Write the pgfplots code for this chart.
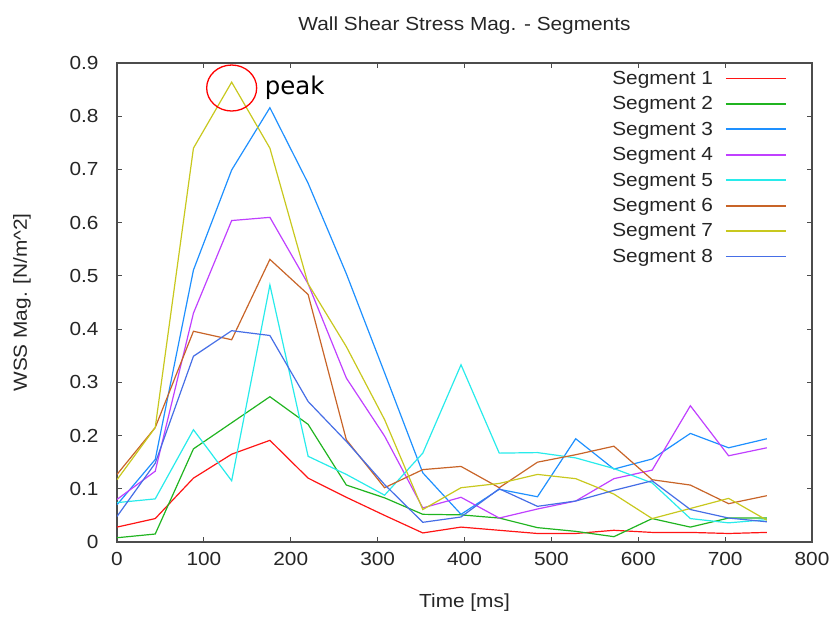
\documentclass[border=0pt]{standalone}
\usepackage{fontspec}
\setmainfont{Liberation Sans}[FakeStretch=1.1]
\newfontfamily\dejavu{DejaVu Sans}
\usepackage{pgfplots}
\pgfplotsset{compat=1.18}
\definecolor{sone}{RGB}{255,20,20}
\definecolor{stwo}{RGB}{32,180,32}
\definecolor{sthree}{RGB}{30,144,255}
\definecolor{sfour}{RGB}{192,64,255}
\definecolor{sfive}{RGB}{40,235,235}
\definecolor{ssix}{RGB}{200,100,40}
\definecolor{sseven}{RGB}{200,200,30}
\definecolor{seight}{RGB}{70,110,230}
\begin{document}
\begin{tikzpicture}
\path[use as bounding box] (-117bp,-77bp) rectangle (715bp,542bp);
\begin{axis}[
  scale only axis,
  width=695bp, height=479bp,
  xmin=0, xmax=800, ymin=0, ymax=0.9,
  xtick={0,100,...,800},
  ytick={0,0.1,...,0.9},
  tick align=inside,
  major tick length=5bp,
  /pgf/number format/assume math mode=true,
  yticklabel style={/pgf/number format/fixed,/pgf/number format/precision=1},
  tick label style={font=\fontsize{19}{22}\selectfont, color=black!85},
  xticklabel style={yshift=-7bp},
  yticklabel style={xshift=-15bp},
  axis line style={black!70, line width=1.2bp},
  every tick/.style={black!70, line width=1bp},
  title={Wall Shear Stress Mag. - Segments},
  title style={font=\fontsize{19}{22}\selectfont, color=black!85, at={(axis description cs:0.5,1.065)}, anchor=center},
  xlabel={Time [ms]},
  ylabel={WSS Mag. [N/m\^{}2]},
  xlabel style={font=\fontsize{19}{22}\selectfont, color=black!85, at={(axis description cs:0.5,-0.1273)}, anchor=center},
  ylabel style={font=\fontsize{19}{22}\selectfont, color=black!85, at={(axis description cs:-0.1367,0.5)}, anchor=center},
  legend style={draw=none, fill=none, at={(1,1)}, anchor=north east, xshift=-22bp, yshift=-5bp,
    font=\fontsize{19}{22}\selectfont, text=black!85, row sep=8.7bp,
    nodes={inner xsep=12bp, inner ysep=1bp}},
  legend cell align=right,
  legend plot pos=right,
  legend image code/.code={\draw[#1, line width=1.8bp] (0bp,0bp) -- (60bp,0bp);},
  every axis plot/.append style={line width=1.2bp},
]
\addplot[sone] coordinates {(0,0.028)(44,0.044)(88,0.120)(132,0.165)(176,0.191)(220,0.120)(264,0.084)(308,0.050)(352,0.017)(396,0.028)(440,0.022)(484,0.016)(528,0.016)(572,0.022)(616,0.018)(660,0.018)(704,0.016)(748,0.018)};
\addlegendentry{Segment 1}
\addplot[stwo] coordinates {(0,0.008)(44,0.015)(88,0.175)(132,0.224)(176,0.273)(220,0.221)(264,0.107)(308,0.083)(352,0.052)(396,0.051)(440,0.045)(484,0.027)(528,0.020)(572,0.010)(616,0.044)(660,0.028)(704,0.045)(748,0.045)};
\addlegendentry{Segment 2}
\addplot[sthree] coordinates {(0,0.070)(44,0.155)(88,0.511)(132,0.699)(176,0.816)(220,0.674)(264,0.504)(308,0.318)(352,0.130)(396,0.052)(440,0.099)(484,0.085)(528,0.194)(572,0.137)(616,0.156)(660,0.204)(704,0.177)(748,0.194)};
\addlegendentry{Segment 3}
\addplot[sfour] coordinates {(0,0.080)(44,0.133)(88,0.430)(132,0.604)(176,0.610)(220,0.485)(264,0.308)(308,0.199)(352,0.064)(396,0.084)(440,0.045)(484,0.062)(528,0.077)(572,0.119)(616,0.135)(660,0.256)(704,0.162)(748,0.177)};
\addlegendentry{Segment 4}
\addplot[sfive] coordinates {(0,0.074)(44,0.081)(88,0.211)(132,0.115)(176,0.483)(220,0.161)(264,0.127)(308,0.088)(352,0.167)(396,0.333)(440,0.167)(484,0.168)(528,0.158)(572,0.138)(616,0.111)(660,0.044)(704,0.036)(748,0.042)};
\addlegendentry{Segment 5}
\addplot[ssix] coordinates {(0,0.127)(44,0.215)(88,0.396)(132,0.380)(176,0.531)(220,0.465)(264,0.192)(308,0.102)(352,0.136)(396,0.142)(440,0.102)(484,0.150)(528,0.164)(572,0.180)(616,0.117)(660,0.107)(704,0.072)(748,0.087)};
\addlegendentry{Segment 6}
\addplot[sseven] coordinates {(0,0.117)(44,0.215)(88,0.740)(132,0.864)(176,0.740)(220,0.485)(264,0.367)(308,0.230)(352,0.061)(396,0.102)(440,0.110)(484,0.127)(528,0.119)(572,0.090)(616,0.044)(660,0.063)(704,0.082)(748,0.041)};
\addlegendentry{Segment 7}
\addplot[seight] coordinates {(0,0.048)(44,0.148)(88,0.349)(132,0.397)(176,0.388)(220,0.264)(264,0.189)(308,0.108)(352,0.037)(396,0.047)(440,0.100)(484,0.067)(528,0.077)(572,0.097)(616,0.115)(660,0.061)(704,0.045)(748,0.038)};
\addlegendentry{Segment 8}
\draw[red, line width=1.3bp] (axis cs:132,0.853) ellipse [x radius=25bp, y radius=23bp];
\node[anchor=west, font=\dejavu\fontsize{24.5}{28}\selectfont, inner sep=0pt] at (axis cs:170,0.853) {peak};
\end{axis}
\end{tikzpicture}
\end{document}
